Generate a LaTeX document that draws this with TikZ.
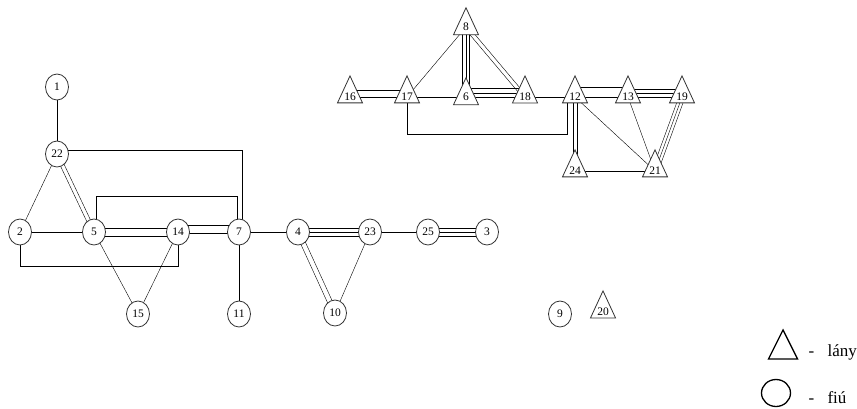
\documentclass[tikz,border=0pt]{standalone}
\usepackage{fontspec}
\setmainfont{Liberation Serif}
\usetikzlibrary{shapes.geometric}
\usetikzlibrary{backgrounds}
\usetikzlibrary{calc}

\tikzset{
	fiu/.style = {ellipse, draw, fill = white, minimum width = 23pt, minimum height = 26pt, inner sep = 0pt},
	lany/.style = {isosceles triangle, isosceles triangle stretches, shape border rotate = 90, draw, fill = white, minimum width = 25pt, minimum height = 27pt, inner sep = 0pt},
}

% ket parhuzamos vonal (tol, ig, fel tavolsag)
\newcommand{\kettos}[3]{%
	\draw ($(#1)!#3!90:(#2)$) -- ($(#2)!#3!-90:(#1)$);
	\draw ($(#1)!#3!-90:(#2)$) -- ($(#2)!#3!90:(#1)$);}
% harom parhuzamos vonal
\newcommand{\harmas}[3]{%
	\kettos{#1}{#2}{#3}
	\draw (#1) -- (#2);}

\begin{document}
\begin{tikzpicture}[x = 1pt, y = -1pt, line width = 0.8pt, draw = black!80, font = \fontsize{11.5}{13}\selectfont]
		\useasboundingbox (0, 0) rectangle (857, 408);

		% fiuk
		\node [fiu] (n1)  at ( 57,  87) {1};
		\node [fiu] (n22) at ( 57, 154) {22};
		\node [fiu] (n2)  at ( 20, 232) {2};
		\node [fiu] (n5)  at ( 94, 232) {5};
		\node [fiu] (n14) at (178, 232) {14};
		\node [fiu] (n7)  at (239, 232) {7};
		\node [fiu] (n15) at (138, 314) {15};
		\node [fiu] (n11) at (239, 314) {11};
		\node [fiu] (n4)  at (298, 232) {4};
		\node [fiu] (n23) at (370, 232) {23};
		\node [fiu] (n25) at (428, 232) {25};
		\node [fiu] (n3)  at (487, 232) {3};
		\node [fiu] (n10) at (335, 313) {10};
		\node [fiu] (n9)  at (560, 314) {9};

		% lanyok
		\node [lany] (n8)  at (466,  27) {8};
		\node [lany] (n16) at (350,  97) {16};
		\node [lany] (n17) at (407,  97) {17};
		\node [lany] (n6)  at (466,  97) {6};
		\node [lany] (n18) at (525,  97) {18};
		\node [lany] (n12) at (575,  97) {12};
		\node [lany] (n13) at (628,  97) {13};
		\node [lany] (n19) at (682,  97) {19};
		\node [lany] (n24) at (575, 171) {24};
		\node [lany] (n21) at (655, 171) {21};
		\node [lany] (n20) at (603, 312) {20};

		\begin{pgfonlayer}{background}
			\kettos{n22.center}{n5.center}{2pt}
			\kettos{n5.center}{n14.center}{4pt}
			\kettos{[yshift = 3pt]n14.center}{[yshift = 3pt]n7.center}{4pt}
			\harmas{n4.center}{n23.center}{4pt}
			\kettos{n4.center}{n10.center}{2.5pt}
			\harmas{n25.center}{n3.center}{4pt}
			\kettos{[yshift = 3pt]n16.center}{[yshift = 3pt]n17.center}{3.5pt}
			\harmas{n8.center}{n6.center}{3.5pt}
			\kettos{n8.center}{n18.center}{2pt}
			\harmas{[yshift = 4pt]n6.center}{[yshift = 4pt]n18.center}{4.5pt}
			\kettos{[yshift = 5pt]n12.center}{[yshift = 5pt]n13.center}{5pt}
			\harmas{[yshift = 4pt]n13.center}{[yshift = 4pt]n19.center}{4pt}
			\kettos{n12.center}{n24.center}{2pt}
			\harmas{n19.center}{n21.center}{3pt}

			\draw (n1.center) -- (n22.center);
			\draw (n22.center) -- (n2.center);
			\draw (n2.center) -- (n5.center);
			\draw (n5.center) -- (n15.center);
			\draw (n14.center) -- (n15.center);
			\draw (n7.center) -- (n11.center);
			\draw (n7.center) -- (n4.center);
			\draw (n23.center) -- (n10.center);
			\draw (n23.center) -- (n25.center);
			\draw (n17.center) -- (n8.center);
			\draw (n17.center) -- (n6.center);
			\draw (n18.center) -- (n12.center);
			\draw (n12.center) -- (n21.center);
			\draw (n13.center) -- (n21.center);
			\draw (n24.center) -- (n21.center);

			\draw ([yshift = 4pt]n22.center) -| ([xshift = 3pt]n7.center);
			\draw ([xshift = 2pt]n5.center) -- ++(0, -36) -| ([xshift = -2pt]n7.center);
			\draw (n2.center) -- ++(0, 34) -| (n14.center);
			\draw (n17.center) -- ++(0, 37) -| ([xshift = -8pt]n12.center);
		\end{pgfonlayer}

		% jelmagyarazat
		\node [lany, line width = 1.3pt, draw = black, minimum width = 29pt, minimum height = 29pt] (legendlany) at (783, 350) {};
		\node [fiu, line width = 1.3pt, draw = black, minimum width = 29pt, minimum height = 27pt] (legendfiu) at (776, 393) {};
		\node [anchor = base west, font = \fontsize{17}{20}\selectfont] (legenddash1) at (805, 356) {-};
		\node [anchor = base west, font = \fontsize{17}{20}\selectfont] (legendlanytext) at (824, 356) {lány};
		\node [anchor = base west, font = \fontsize{17}{20}\selectfont] (legenddash2) at (805, 403) {-};
		\node [anchor = base west, font = \fontsize{17}{20}\selectfont] (legendfiutext) at (824, 403) {fiú};
	\end{tikzpicture}
\end{document}
